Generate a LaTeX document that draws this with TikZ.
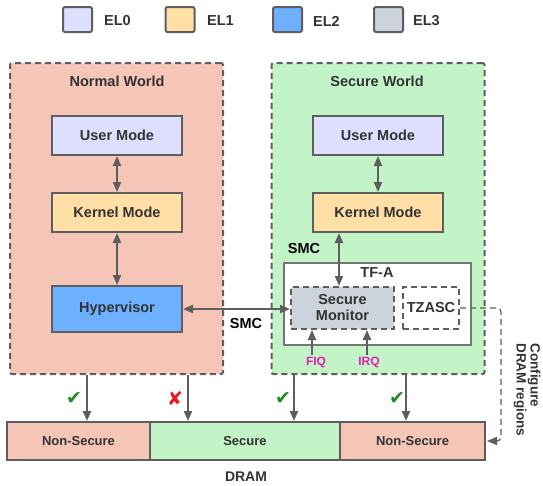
\documentclass[tikz,border=0pt]{standalone}
\usepackage{fontspec}
\setmainfont{Liberation Sans}
\newfontfamily\marksym{DejaVu Sans}
\usetikzlibrary{arrows.meta}
\definecolor{nwfill}{HTML}{F5C6B7}
\definecolor{swfill}{HTML}{C3F4C8}
\definecolor{elzero}{HTML}{DEDEFF}
\definecolor{elone}{HTML}{FFDFA6}
\definecolor{eltwo}{HTML}{6DB0FF}
\definecolor{elthree}{HTML}{CDD3DA}
\definecolor{edge}{HTML}{5E5E5E}
\definecolor{txt}{HTML}{333333}
\definecolor{irqpink}{HTML}{DE1DB4}
\definecolor{okgreen}{HTML}{1E8C1E}
\definecolor{badred}{HTML}{E8191E}
\tikzset{
	lbl/.style={text=txt, inner sep=1pt, font=\bfseries\fontsize{14.5}{16}\selectfont},
	box/.style={lbl, draw=edge, line width=2pt, minimum width=130pt, minimum height=39pt, align=center},
	world/.style={draw=edge, line width=2pt, dash pattern=on 6pt off 4pt, rounded corners=2pt, minimum width=213pt, minimum height=311pt},
	key/.style={draw=edge, line width=2pt, rounded corners=2pt, minimum width=29pt, minimum height=25pt},
	cell/.style={lbl, font=\bfseries\fontsize{13}{15}\selectfont, draw=edge, line width=2pt, minimum height=38pt},
	irq/.style={text=irqpink, inner sep=1pt, font=\bfseries\fontsize{12}{13}\selectfont},
	tick/.style={inner sep=0pt, font=\marksym\fontsize{19}{19}\selectfont},
	conn/.style={draw=edge, line width=2pt, -{Triangle[length=10pt,width=8pt]}},
	twoway/.style={draw=edge, line width=2pt, {Triangle[length=10pt,width=8pt]}-{Triangle[length=10pt,width=8pt]}},
	cfg/.style={draw=edge, line width=1.3pt, dash pattern=on 6pt off 4pt, rounded corners=4pt, -{Triangle[length=10pt,width=8pt]}},
}
\begin{document}
\begin{tikzpicture}[x=1pt,y=-1pt]
		%%%%% START %%%%%
		\useasboundingbox (0,0) rectangle (543,485);
		
		% legend
		\node[key, fill=elzero] (k0) at (77.5,19.5) {};
		\node[lbl, anchor=west] (k0t) at (103,21) {EL0};
		\node[key, fill=elone] (k1) at (180,19.5) {};
		\node[lbl, anchor=west] (k1t) at (206,21) {EL1};
		\node[key, fill=eltwo] (k2) at (287.5,19.5) {};
		\node[lbl, anchor=west] (k2t) at (312,21) {EL2};
		\node[key, fill=elthree] (k3) at (388.5,19.5) {};
		\node[lbl, anchor=west] (k3t) at (412,21) {EL3};
		
		% the two worlds
		\node[world, fill=nwfill] (nw) at (116.5,218.5) {};
		\node[world, fill=swfill] (sw) at (378,218.5) {};
		\node[lbl] (nwt) at (117,81) {Normal World};
		\node[lbl] (swt) at (377,81) {Secure World};
		
		\node[box, fill=elzero] (user1) at (117,135.5) {User Mode};
		\node[box, fill=elone] (kern1) at (117,212.5) {Kernel Mode};
		\node[box, fill=eltwo, minimum height=46pt] (hyp) at (117,309) {Hypervisor};
		\node[box, fill=elzero] (user2) at (378,135.5) {User Mode};
		\node[box, fill=elone] (kern2) at (378,212.5) {Kernel Mode};
		
		% trusted firmware
		\node[draw=edge!85, line width=1.3pt, fill=white, minimum width=187pt, minimum height=82pt] (tfa) at (377.5,304) {};
		\node[lbl] (tfat) at (377,273) {TF-A};
		\node[box, fill=elthree, dash pattern=on 6pt off 4pt, minimum width=103pt, minimum height=42pt] (mon) at (342.5,308) {Secure\\Monitor};
		\node[box, dash pattern=on 6pt off 4pt, minimum width=56pt, minimum height=42pt] (tz) at (431,308) {TZASC};
		\node[lbl, text=black] (smc1) at (246,324) {SMC};
		\node[lbl, text=black] (smc2) at (304,249) {SMC};
		\node[irq] (fiq) at (316,362) {FIQ};
		\node[irq] (irqt) at (369,362) {IRQ};
		
		% DRAM
		\node[cell, fill=nwfill, minimum width=143pt] (ns1) at (78.5,441) {Non-Secure};
		\node[cell, fill=swfill, minimum width=190pt] (sec) at (245,441) {Secure};
		\node[cell, fill=nwfill, minimum width=145pt] (ns2) at (412.5,441) {Non-Secure};
		\node[lbl, font=\bfseries\fontsize{14}{16}\selectfont] (dram) at (246,477) {DRAM};
		\node[lbl, font=\bfseries\fontsize{13.5}{14}\selectfont, rotate=-90, align=left] (cfgt) at (527,390) {Configure\\DRAM regions};
		
		\node[tick, text=okgreen] (ok1) at (74,398) {✔};
		\node[tick, text=badred] (no1) at (175,398) {✘};
		\node[tick, text=okgreen] (ok2) at (283,398) {✔};
		\node[tick, text=okgreen] (ok3) at (397,398) {✔};
		
		% connectors
		\coordinate (xa) at (87,0);
		\coordinate (xb) at (188,0);
		\coordinate (xc) at (294,0);
		\coordinate (xd) at (406,0);
		\coordinate (xk) at (339,0);
		\coordinate (xf) at (312,0);
		\coordinate (xi) at (367,0);
		\coordinate (xcfg) at (501,0);
		
		\draw[twoway] (user1.south) -- (kern1.north);
		\draw[twoway] (kern1.south) -- (hyp.north);
		\draw[twoway] (user2.south) -- (kern2.north);
		\draw[twoway] (kern2.south -| xk) -- (mon.north -| xk);
		\draw[twoway] (hyp.east) -- (hyp.east -| mon.west);
		\draw[conn] (fiq.north -| xf) -- (mon.south -| xf);
		\draw[conn] (irqt.north -| xi) -- (mon.south -| xi);
		
		\draw[conn] (nw.south -| xa) -- (ns1.north -| xa);
		\draw[conn] (nw.south -| xb) -- (sec.north -| xb);
		\draw[conn] (sw.south -| xc) -- (sec.north -| xc);
		\draw[conn] (sw.south -| xd) -- (ns2.north -| xd);
		
		\draw[cfg] (tz.east) -- (tz.east -| xcfg) |- ([xshift=1pt]ns2.east);
		%%%%% END %%%%%
\end{tikzpicture}
\end{document}
